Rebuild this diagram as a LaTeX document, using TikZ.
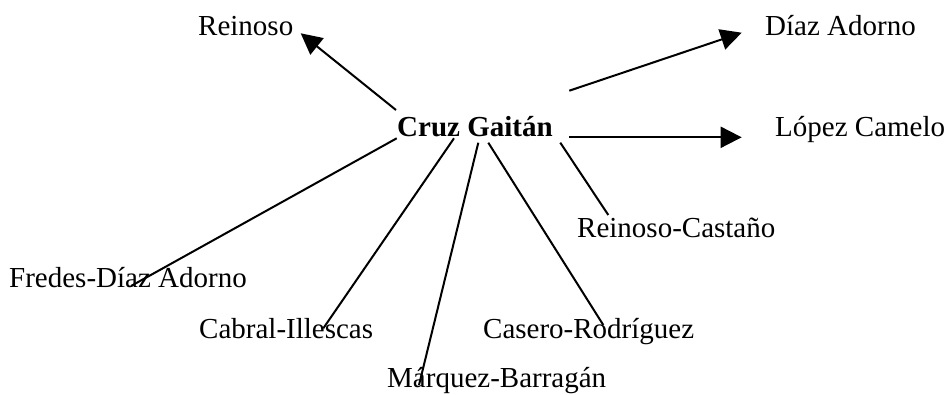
\documentclass[tikz,border=0pt]{standalone}
\usepackage{fontspec}
\setmainfont{Liberation Serif}
\usetikzlibrary{arrows.meta}
\begin{document}
\begin{tikzpicture}[x=1pt,y=-1pt,
  lbl/.style={anchor=base west,inner sep=0pt,font=\fontsize{29}{34}\selectfont},
  conn/.style={line width=2pt},
  arr/.style={conn,-{Triangle[length=21pt,width=21pt]}}]
\useasboundingbox (0,0) rectangle (947,394);
% nodes
\node[lbl,font=\fontsize{29}{34}\selectfont\bfseries] (cg) at (397,136) {Cruz Gaitán};
\node[lbl] (rein) at (198,35) {Reinoso};
\node[lbl] (diaz) at (765,35) {Díaz Adorno};
\node[lbl] (lopez) at (775,136) {López Camelo};
\node[lbl] (rc) at (577,237) {Reinoso-Castaño};
\node[lbl] (fredes) at (9,287) {Fredes-Díaz Adorno};
\node[lbl] (cabral) at (199,338) {Cabral-Illescas};
\node[lbl] (casero) at (483,338) {Casero-Rodríguez};
\node[lbl] (marquez) at (387,387) {Márquez-Barragán};
% connector end points
\coordinate (cgR) at (396,110);   \coordinate (reinE) at (300.7,33.3);
\coordinate (cgD) at (569.3,90.7); \coordinate (diazE) at (741.7,32.7);
\coordinate (cgL) at (569.3,137.3); \coordinate (lopezE) at (741.7,137.3);
\coordinate (cgRC) at (560.3,142.7); \coordinate (rcE) at (608.3,215);
\coordinate (cgCa) at (488.3,142.7); \coordinate (caseroE) at (603.3,325);
\coordinate (cgM) at (478.3,142.7); \coordinate (marquezE) at (419,385);
\coordinate (cgCb) at (454,138.3); \coordinate (cabralE) at (323.3,328.3);
\coordinate (cgF) at (396.7,138.3); \coordinate (fredesE) at (131,286);
% connectors
\draw[arr] (cgR) -- (reinE);
\draw[arr] (cgD) -- (diazE);
\draw[arr] (cgL) -- (lopezE);
\draw[conn] (cgRC) -- (rcE);
\draw[conn] (cgCa) -- (caseroE);
\draw[conn] (cgM) -- (marquezE);
\draw[conn] (cgCb) -- (cabralE);
\draw[conn] (cgF) -- (fredesE);
\end{tikzpicture}
\end{document}
